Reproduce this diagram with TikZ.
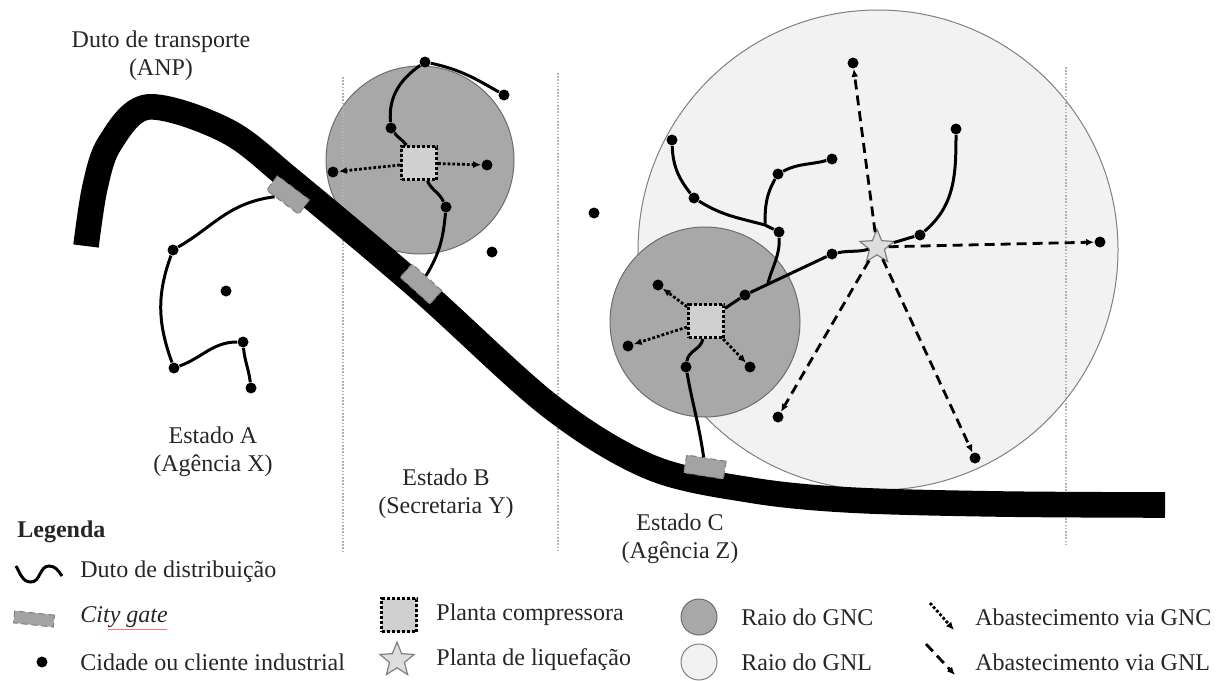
\documentclass[tikz,border=0pt]{standalone}
\usepackage{fontspec}
\setmainfont{Liberation Serif}
\usetikzlibrary{shapes.geometric,arrows.meta}
\definecolor{gncgray}{HTML}{A8A8A8}
\definecolor{gnlgray}{HTML}{F2F2F2}
\definecolor{gategray}{HTML}{A3A3A3}
\definecolor{compgray}{HTML}{D0D0D0}
\definecolor{liqgray}{HTML}{DEDEDE}

\begin{document}
\begin{tikzpicture}[x=0.5pt, y=-0.5pt,
                    city/.style={circle, fill=black, inner sep=0pt, minimum size=5.5pt},
                    gatebox/.style={rectangle, fill=gategray, draw=gray, densely dashed, line width=0.5pt, minimum width=20pt, minimum height=9pt, inner sep=0pt},
                    comp/.style={rectangle, fill=compgray, draw=black, densely dotted, line width=1.5pt, minimum width=17.5pt, minimum height=16.5pt, inner sep=0pt},
                    liq/.style={star, star points=5, star point ratio=2.3, fill=liqgray, draw=gray, line width=0.6pt, minimum size=18pt, inner sep=0pt},
                    gnc/.style={circle, fill=gncgray, draw=gray!85!black, line width=0.5pt, inner sep=0pt},
                    gnl/.style={circle, fill=gnlgray, draw=gray, line width=0.5pt, inner sep=0pt},
                    dist/.style={line width=1.5pt},
                    gncarrow/.style={densely dotted, line width=1.4pt, -{Latex[length=4pt,width=3.5pt]}},
                    gnlarrow/.style={dash pattern=on 5pt off 3pt, line width=1.4pt, -{Latex[length=4pt,width=3.5pt]}},
                    divider/.style={gray!60, line width=0.8pt, dash pattern=on 0.8pt off 0.8pt},
                    lbl/.style={align=center, inner sep=0pt, text=black!85, font=\fontsize{12}{14}\selectfont},
                    key/.style={lbl, anchor=west}
                ]
    \useasboundingbox (0,0) rectangle (1220,680);

    \node[gnl, minimum size=240pt] (raioL) at (878,250) {};
    \node[gnc, minimum size=94pt] (raioB) at (420,160) {};
    \node[gnc, minimum size=95pt] (raioC) at (705,322) {};

    \draw[divider] (343,77) -- (343,553);
    \draw[divider] (558,73) -- (558,550);
    \draw[divider] (1066,67) -- (1066,547);

    \draw[line width=12.8pt] plot[smooth, tension=0.55] coordinates {(86,246) (95,187) (110,143) (148,107) (227,131) (293,182) (420,289) (550,406) (650,467) (750,490) (850,500) (1000,504) (1165,505)};

    \node[gatebox, rotate=-37] (gate1) at (288,195) {};
    \node[gatebox, rotate=-42] (gate2) at (421,284) {};
    \node[gatebox, rotate=-9] (gate3) at (705,467) {};

    \node[city] (a1) at (173,250) {};
    \node[city] (a2) at (174,368) {};
    \node[city] (a3) at (243,342) {};
    \node[city] (a4) at (251,388) {};
    \node[city] (a5) at (226,291) {};

    \node[comp] (compB) at (419,163) {};
    \node[city] (b1) at (425,62) {};
    \node[city] (b2) at (504,95) {};
    \node[city] (b3) at (391,128) {};
    \node[city] (b4) at (446,207) {};
    \node[city] (b5) at (333,172) {};
    \node[city] (b6) at (487,165) {};
    \node[city] (b7) at (492,252) {};

    \node[comp] (compC) at (706,321) {};
    \node[liq] (liqC) at (877,247) {};
    \node[city] (c0) at (594,213) {};
    \node[city] (c1) at (672,140) {};
    \node[city] (c2) at (694,198) {};
    \node[city] (c3) at (778,174) {};
    \node[city] (c4) at (832,159) {};
    \node[city] (c5) at (779,232) {};
    \node[city] (c6) at (832,254) {};
    \node[city] (c7) at (745,295) {};
    \node[city] (c8) at (956,129) {};
    \node[city] (c9) at (920,235) {};
    \node[city] (c10) at (686,367) {};
    \coordinate (jC1) at (765,225);
    \coordinate (jC2) at (768,283);
    \node[city] (g1) at (658,285) {};
    \node[city] (g2) at (628,346) {};
    \node[city] (g3) at (750,367) {};
    \node[city] (l1) at (853,63) {};
    \node[city] (l2) at (1100,242) {};
    \node[city] (l3) at (778,417) {};
    \node[city] (l4) at (975,458) {};

    \draw[dist] (gate1) to[out=200,in=30] (a1) to[out=-110,in=110] (a2) to[out=20,in=180] (a3) to[out=-85,in=97] (a4);

    \draw[dist] (gate2) to[out=70,in=-95] (b4) to[out=115,in=-65] (compB);
    \draw[dist] (compB) to[out=125,in=-55] (b3) to[out=95,in=-145] (b1) to[out=-12,in=150] (b2);
    \draw[gncarrow] (compB) -- (b5);
    \draw[gncarrow] (compB) -- (b6);

    \draw[dist] (gate3) to[out=100,in=-80] (c10) to[out=82,in=-100] (compC);
    \draw[dist] (compC) -- (c7) -- (c6) to[out=12,in=195] (liqC);
    \draw[dist] (liqC) to[out=15,in=195] (c9) to[out=40,in=-90] (c8);
    \draw[dist] (c1) to[out=-88,in=128] (c2) to[out=-32,in=165] (jC1) -- (c5) to[out=-88,in=75] (jC2);
    \draw[dist] (c4) to[out=195,in=28] (c3) to[out=-120,in=90] (jC1);
    \draw[gncarrow] (compC) -- (g1);
    \draw[gncarrow] (compC) -- (g2);
    \draw[gncarrow] (compC) -- (g3);
    \draw[gnlarrow] (liqC) -- (l1);
    \draw[gnlarrow] (liqC) -- (l2);
    \draw[gnlarrow] (liqC) -- (l3);
    \draw[gnlarrow] (liqC) -- (l4);

    \node[lbl] (tDuto) at (161,56) {Duto de transporte\\(ANP)};
    \node[lbl] (tEstA) at (213,452) {Estado A\\(Agência X)};
    \node[lbl] (tEstB) at (446,494) {Estado B\\(Secretaria Y)};
    \node[lbl] (tEstC) at (680,539) {Estado C\\(Agência Z)};

    \node[key, font=\fontsize{12}{14}\selectfont\bfseries] (tLeg) at (17,532) {Legenda};
    \draw[dist] (16,566) to[out=-60,in=180] (31,582) to[out=0,in=180] (49,566) to[out=0,in=125] (62,576);
    \node[key] (tDist) at (80,572) {Duto de distribuição};
    \node[gatebox, rotate=-6, minimum height=6pt] (kGate) at (34,619) {};
    \node[key, font=\fontsize{12}{14}\selectfont\itshape] (tGate) at (80,617) {City gate};
    \draw[red!55, line width=0.4pt] (108,629) -- (167,629);
    \node[city] (kCity) at (42,662) {};
    \node[key] (tCity) at (80,662) {Cidade ou cliente industrial};

    \node[comp] (kComp) at (399,615) {};
    \node[key] (tComp) at (436,615) {Planta compressora};
    \node[liq] (kLiq) at (397,660) {};
    \node[key] (tLiq) at (436,660) {Planta de liquefação};

    \node[gnc, minimum size=18pt] (kGNC) at (699,617) {};
    \node[key] (tGNC) at (741,617) {Raio do GNC};
    \node[gnl, minimum size=18pt] (kGNL) at (699,662) {};
    \node[key] (tGNL) at (741,662) {Raio do GNL};

    \coordinate (kA1) at (930,603);
    \coordinate (kA2) at (954,630);
    \draw[gncarrow] (kA1) -- (kA2);
    \coordinate (kB1) at (926,644);
    \coordinate (kB2) at (955,675);
    \draw[gnlarrow] (kB1) -- (kB2);
    \node[key] (tAGNC) at (975,617) {Abastecimento via GNC};
    \node[key] (tAGNL) at (975,662) {Abastecimento via GNL};
\end{tikzpicture}
\end{document}
